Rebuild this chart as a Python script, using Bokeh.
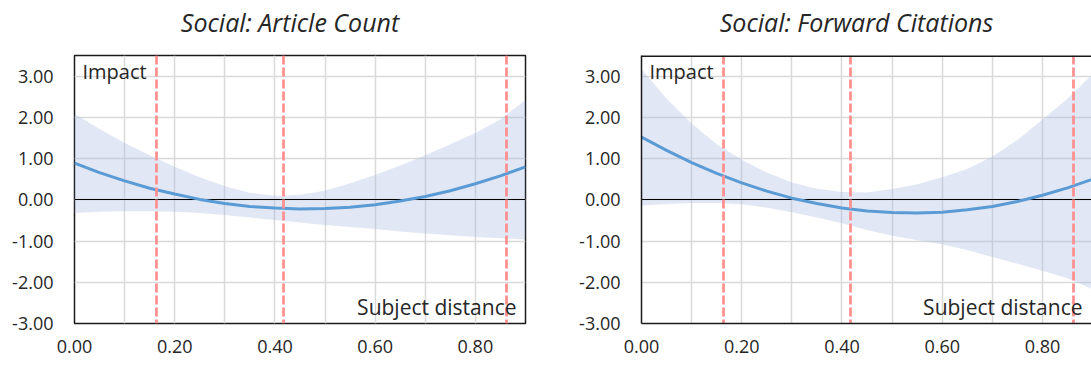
from bokeh.plotting import figure
from bokeh.layouts import row, column
from bokeh.models import Range1d, FixedTicker, NumeralTickFormatter, Label
from bokeh.embed import file_html
from bokeh.resources import INLINE

# ---- data ----
x_vals = [0.00, 0.05, 0.10, 0.15, 0.20, 0.25, 0.30, 0.35, 0.40, 0.45,
          0.50, 0.55, 0.60, 0.65, 0.70, 0.75, 0.80, 0.85, 0.90]

# Social: Article Count
ac_fit   = [0.89, 0.66, 0.46, 0.28, 0.14, 0.01, -0.09, -0.16, -0.20, -0.22,
            -0.21, -0.18, -0.12, -0.03, 0.08, 0.22, 0.39, 0.58, 0.80]
ac_upper = [2.08, 1.72, 1.38, 1.08, 0.80, 0.55, 0.33, 0.17, 0.10, 0.12,
            0.22, 0.40, 0.60, 0.83, 1.08, 1.35, 1.62, 1.95, 2.42]
ac_lower = [-0.32, -0.29, -0.28, -0.28, -0.29, -0.32, -0.37, -0.43, -0.49, -0.55,
            -0.61, -0.66, -0.71, -0.77, -0.82, -0.86, -0.90, -0.93, -0.96]

# Social: Forward Citations
fc_fit   = [1.52, 1.20, 0.90, 0.64, 0.41, 0.21, 0.04, -0.09, -0.20, -0.27,
            -0.31, -0.32, -0.30, -0.24, -0.16, -0.04, 0.11, 0.29, 0.50]
fc_upper = [3.17, 2.45, 1.85, 1.35, 0.97, 0.66, 0.42, 0.27, 0.19, 0.18,
            0.26, 0.38, 0.55, 0.75, 1.05, 1.45, 1.95, 2.45, 3.05]
fc_lower = [-0.14, -0.10, -0.08, -0.08, -0.11, -0.19, -0.30, -0.43, -0.57, -0.73,
            -0.87, -0.98, -1.08, -1.22, -1.39, -1.55, -1.72, -1.90, -2.17]

titles = ["Social: Article Count", "Social: Forward Citations"]
cutoffs = [0.163, 0.417, 0.862]
x_ticks = [0.0, 0.2, 0.4, 0.6, 0.8]
x_grid = [0.1, 0.2, 0.3, 0.4, 0.5, 0.6, 0.7, 0.8, 0.9]
y_ticks = [-3, -2, -1, 0, 1, 2, 3]
X_MIN, Y_MIN, Y_MAX = 0.0, -3.0, 3.5

FONT = "Open Sans"
TXT = "#262626"
BORDER = "#1a1a1a"
TITLE_H = 40
PLOT_H = 365 - TITLE_H


def make_title(text, x_max, width, left_border, right_border):
    # a thin strip above the chart that carries only the chart title;
    # its frame lines up with the chart frame below it
    t = figure(width=width, height=TITLE_H, output_backend="svg", toolbar_location=None,
               x_axis_type=None, y_axis_type=None,
               x_range=Range1d(X_MIN, x_max), y_range=Range1d(0, TITLE_H),
               min_border=0, min_border_left=left_border, min_border_right=right_border,
               min_border_top=0, min_border_bottom=0)
    t.title.visible = False
    t.outline_line_color = None
    t.grid.visible = False
    t.add_layout(Label(x=(X_MIN + x_max) / 2, y=19, x_offset=-10, text=text,
                       text_font=FONT, text_font_style="italic", text_font_size="25px",
                       text_color=TXT, text_align="center", text_baseline="alphabetic"))
    return t


def make_panel(fit, upper, lower, x_max, width, left_border, right_border, full_outline):
    p = figure(width=width, height=PLOT_H, output_backend="svg", toolbar_location=None,
               x_range=Range1d(X_MIN, x_max), y_range=Range1d(Y_MIN, Y_MAX),
               min_border_left=left_border, min_border_right=right_border,
               min_border_top=55 - TITLE_H, min_border_bottom=42)

    for ax in (p.xaxis[0], p.yaxis[0]):
        ax.major_tick_line_color = None
        ax.minor_tick_line_color = None
        ax.major_tick_out = 0
        ax.major_tick_in = 0
        ax.minor_tick_out = 0
        ax.minor_tick_in = 0
        ax.major_label_text_font = FONT
        ax.major_label_text_font_size = "18px"
        ax.major_label_text_color = TXT
        ax.formatter = NumeralTickFormatter(format="0.00")
    p.xaxis[0].ticker = FixedTicker(ticks=x_ticks)
    p.yaxis[0].ticker = FixedTicker(ticks=y_ticks)
    p.xaxis[0].major_label_standoff = 16
    p.yaxis[0].major_label_standoff = 21

    p.xgrid.ticker = FixedTicker(ticks=x_grid)
    p.ygrid.ticker = FixedTicker(ticks=y_ticks)
    for g in (p.xgrid[0], p.ygrid[0]):
        g.grid_line_color = "#D9D9D9"
        g.grid_line_width = 1.5

    p.varea(x=x_vals, y1=lower, y2=upper, fill_color="#A9BBE0", fill_alpha=0.35)
    p.hspan(y=[0], line_color="black", line_width=1.2)
    p.line(x=x_vals, y=fit, line_color="#5B9BD5", line_width=3)
    p.vspan(x=cutoffs, line_color="#FF9191", line_width=2.8, line_dash="9 3")

    if full_outline:
        p.outline_line_color = BORDER
        p.outline_line_width = 1.5
        p.xaxis[0].axis_line_color = None
        p.yaxis[0].axis_line_color = None
    else:
        # panel runs off the right edge of the page: border on three sides only
        p.outline_line_color = None
        p.xaxis[0].axis_line_color = BORDER
        p.xaxis[0].axis_line_width = 1.5
        p.yaxis[0].axis_line_color = BORDER
        p.yaxis[0].axis_line_width = 1.5
        p.hspan(y=[Y_MAX], line_color=BORDER, line_width=3)

    p.add_layout(Label(x=X_MIN, y=Y_MAX, x_offset=8, y_offset=-16, text="Impact",
                       text_font=FONT, text_font_size="20px", text_color=TXT,
                       text_baseline="alphabetic"))
    p.add_layout(Label(x=x_max, y=Y_MIN, x_offset=-9, y_offset=17, text="Subject distance",
                       text_font=FONT, text_font_size="21px", text_color=TXT,
                       text_align="right", text_baseline="alphabetic"))
    return p


left = column(make_title(titles[0], 0.9, 545, 74, 20),
              make_panel(ac_fit, ac_upper, ac_lower, 0.9, 545, 74, 20, True))
right = column(make_title(titles[1], 0.8978, 546, 96, 0),
               make_panel(fc_fit, fc_upper, fc_lower, 0.8978, 546, 96, 0, False))

layout = row(left, right)
open("out.html", "w").write(file_html(layout, INLINE))
